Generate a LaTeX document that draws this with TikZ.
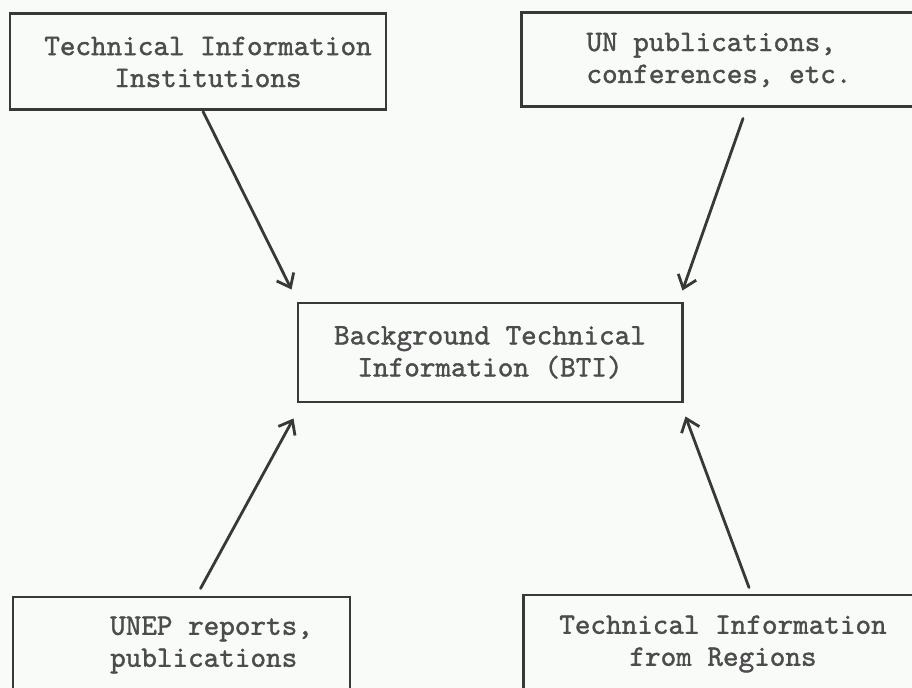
\documentclass[tikz,border=0pt]{standalone}
\usepackage{fontspec}
\newfontfamily\typerfont{lmmono10-regular}[Extension=.otf,FakeBold=1.3]
\usepackage{tikz}
\usetikzlibrary{arrows.meta}
\usepackage{xcolor}
\definecolor{paper}{rgb}{0.975,0.985,0.975}
\definecolor{ink}{rgb}{0.22,0.22,0.22}

\begin{document}
\begin{tikzpicture}[x=0.02cm,y=-0.02cm,>={Straight Barb[length=2.4mm,width=3.8mm]},
  infobox/.style={draw=ink,line width=1.7pt,rectangle,inner sep=0pt},
  boxtext/.style={inner sep=0pt,text=ink!90,
    font=\typerfont\fontsize{16.9pt}{18.2pt}\selectfont},
  feed/.style={->,draw=ink,line width=1.6pt,line cap=round}]
\fill[paper] (0,0) rectangle (912,688);
\useasboundingbox (0,0) rectangle (912,688);
% the five boxes
\node[infobox,minimum width=376*0.02cm,minimum height=96*0.02cm] (tli) at (198,62) {};
\node[infobox,minimum width=396*0.02cm,minimum height=94*0.02cm] (unp) at (719,60) {};
\node[infobox,minimum width=384*0.02cm,minimum height=99*0.02cm] (bti) at (490,352.5) {};
\node[infobox,minimum width=337*0.02cm,minimum height=96*0.02cm] (unep) at (181.5,645) {};
\node[infobox,minimum width=400*0.02cm,minimum height=98*0.02cm] (reg) at (723,644) {};
% their texts
\node[boxtext,align=center] (tlitext) at ([xshift=10*0.02cm]tli.center) {Technical Information\\Institutions};
\node[boxtext,align=left] (unptext) at (unp.center) {UN publications,\\conferences, etc.};
\node[boxtext,align=center] (btitext) at (bti.center) {Background Technical\\Information (BTI)};
\node[boxtext,align=left] (uneptext) at ([xshift=30*0.02cm]unep.center) {UNEP reports,\\publications};
\node[boxtext,align=center] (regtext) at (reg.center) {Technical Information\\from Regions};
% feeds into BTI
\draw[feed] ([xshift=5*0.02cm]tli.south) -- ([shift={(-5,-12)}]bti.north west);
\draw[feed] ([shift={(24,10)}]unp.south) -- ([shift={(-1,-11)}]bti.north east);
\draw[feed] ([shift={(19,-7)}]unep.north) -- ([shift={(-3,15)}]bti.south west);
\draw[feed] ([shift={(26,-6)}]reg.north) -- ([shift={(2,13)}]bti.south east);
\end{tikzpicture}
\end{document}
